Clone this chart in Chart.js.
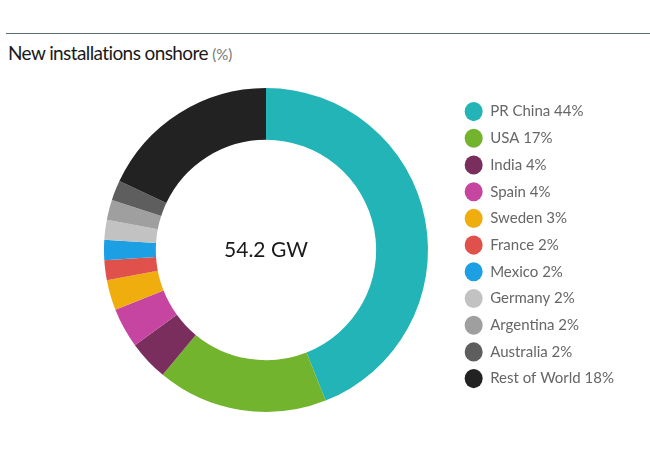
<!DOCTYPE html>
<html>
<head>
<meta charset="utf-8">
<script src="https://cdn.jsdelivr.net/npm/chart.js@4.4.1/dist/chart.umd.min.js"></script>
<style>
    html, body { margin: 0; padding: 0; background: #fff; }
    body { width: 650px; height: 450px; position: relative; overflow: hidden; font-family: Lato, "Noto Sans", sans-serif; }
    #rule { position: absolute; left: 6px; right: 0; top: 33px; height: 0; border-top: 1px solid #5d6f78; }
    #title { position: absolute; left: 8px; top: 41px; font-size: 19px; letter-spacing: -0.6px; color: #1a1a1a; white-space: nowrap; }
    #title span { font-size: 15px; letter-spacing: 0; color: #777; }
    #chartBox { position: absolute; left: 0; top: 80px; width: 650px; height: 340px; }
</style>
</head>
<body>
<div id="rule"></div>
<div id="title">New installations onshore <span>(%)</span></div>
<div id="chartBox"><canvas id="donut"></canvas></div>
<script>
const countries = ['PR China', 'USA', 'India', 'Spain', 'Sweden', 'France', 'Mexico', 'Germany', 'Argentina', 'Australia', 'Rest of World'];
const shares = [44, 17, 4, 4, 3, 2, 2, 2, 2, 2, 18];
const sliceColors = ['#22b4b6', '#73b42f', '#7a2e5e', '#c545a1', '#f0ad0e', '#e0514b', '#1d9fe4', '#c2c2c2', '#9f9f9f', '#5e5e5e', '#222222'];
const totalLabel = '54.2 GW';

const centerText = {
    id: 'centerText',
    afterDraw(chart) {
        const arc = chart.getDatasetMeta(0).data[0];
        if (!arc) return;
        const ctx = chart.ctx;
        ctx.save();
        ctx.font = '21px Lato, "Noto Sans", sans-serif';
        ctx.fillStyle = '#1a1a1a';
        ctx.textAlign = 'center';
        ctx.textBaseline = 'middle';
        ctx.fillText(totalLabel, arc.x, arc.y);
        ctx.restore();
    }
};

new Chart(document.getElementById('donut').getContext('2d'), {
    type: 'doughnut',
    data: {
        labels: countries,
        datasets: [{
            data: shares,
            backgroundColor: sliceColors,
            borderWidth: 0
        }]
    },
    options: {
        responsive: true,
        maintainAspectRatio: false,
        animation: false,
        cutout: '68%',
        layout: { padding: { left: 79, right: 26, top: 8, bottom: 8 } },
        plugins: {
            tooltip: { enabled: false },
            legend: {
                position: 'right',
                align: 'start',
                // tiny blank title just nudges the items down a few px
                title: { display: true, text: ' ', font: { size: 2 }, padding: 1 },
                labels: {
                    usePointStyle: true,
                    pointStyle: 'circle',
                    pointStyleWidth: 18,
                    boxHeight: 13.5,
                    padding: 11.7,
                    color: '#1a1a1a',
                    font: { size: 15, family: 'Lato, "Noto Sans", sans-serif' },
                    generateLabels(chart) {
                        return countries.map((name, i) => ({
                            text: `${name} ${shares[i]}%`,
                            fillStyle: sliceColors[i],
                            strokeStyle: sliceColors[i],
                            lineWidth: 0,
                            pointStyle: 'circle',
                            hidden: false,
                            index: i
                        }));
                    }
                }
            }
        }
    },
    plugins: [centerText]
});
</script>
</body>
</html>
